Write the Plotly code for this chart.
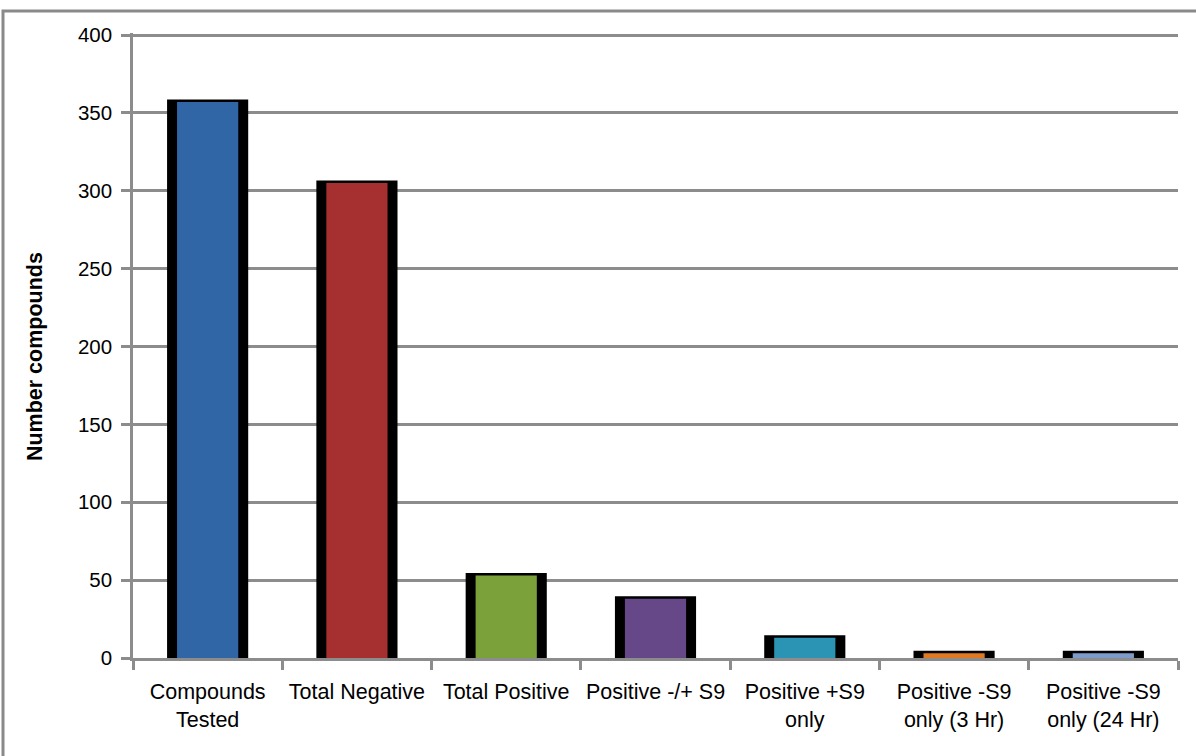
import plotly.graph_objects as go

# Compound counts by test outcome
categories = [
    "Compounds<br>Tested",
    "Total Negative",
    "Total Positive",
    "Positive -/+ S9",
    "Positive +S9<br>only",
    "Positive -S9<br>only (3 Hr)",
    "Positive -S9<br>only (24 Hr)",
]
counts = [357, 305, 53, 38, 13, 3, 3]
bar_colors = ["#3066a6", "#a5302f", "#7ba13b", "#664889", "#2b93b4", "#e07a22", "#7e9ccb"]

y_ticks = [0, 50, 100, 150, 200, 250, 300, 350, 400]
grid_color = "#8c8c8c"
font_family = "Liberation Sans, Arial, sans-serif"

fig = go.Figure()

# dark frame behind each bar
fig.add_trace(go.Bar(
    x=categories, y=counts, width=0.51,
    marker=dict(color="black", line=dict(color="black", width=5)),
    hoverinfo="skip", showlegend=False,
))
# coloured body of each bar
fig.add_trace(go.Bar(
    x=categories, y=counts, width=0.41,
    marker=dict(color=bar_colors, line=dict(width=0)),
    showlegend=False,
))

fig.update_layout(
    barmode="overlay",
    width=1196, height=756,
    margin=dict(l=133, r=18, t=33, b=98),
    plot_bgcolor="white", paper_bgcolor="white",
    font=dict(family=font_family, color="black", size=20),
    xaxis=dict(
        type="category",
        showgrid=False,
        showline=True, linecolor=grid_color, linewidth=2.5,
        ticks="outside", tickson="boundaries", ticklen=9,
        tickcolor=grid_color, tickwidth=2.5,
        tickfont=dict(size=21.5), tickangle=0, automargin=False,
        ticklabelstandoff=12,
        range=[-0.5, 6.5],
    ),
    yaxis=dict(
        range=[0, 401.3], tickvals=y_ticks,
        showgrid=True, gridcolor=grid_color, gridwidth=2.5,
        showline=True, linecolor=grid_color, linewidth=2.5,
        ticks="outside", ticklen=9, tickcolor=grid_color, tickwidth=2.5,
        tickfont=dict(size=20.5), automargin=False,
        ticklabelstandoff=5,
        zeroline=False,
    ),
    annotations=[dict(
        text="<b>Number compounds</b>", textangle=-90,
        xref="paper", yref="paper", x=-0.0938, y=0.483,
        xanchor="center", yanchor="middle", showarrow=False,
        font=dict(size=21.5),
    )],
    shapes=[dict(
        type="rect", xref="paper", yref="paper",
        x0=-0.1244, x1=1.05, y0=-0.25, y1=1.0352,
        line=dict(color="#8a8a8a", width=3), fillcolor="rgba(0,0,0,0)",
        layer="below",
    )],
)

fig.write_html("out.html")
